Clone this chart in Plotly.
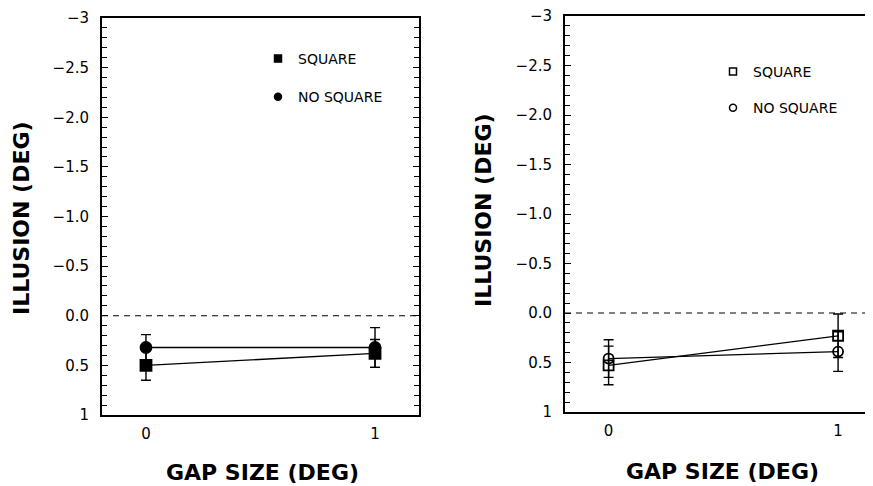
import plotly.graph_objects as go

# ---- data ----
gap_size = [0, 1]

# Left panel (filled symbols)
left_square = [0.50, 0.38]
left_square_err = [0.15, 0.14]
left_nosquare = [0.32, 0.32]
left_nosquare_err = [0.13, 0.20]

# Right panel (open symbols)
right_square = [0.53, 0.23]
right_square_err = [0.195, 0.22]
right_nosquare = [0.46, 0.39]
right_nosquare_err = [0.19, 0.20]

series_names = ["SQUARE", "NO SQUARE"]
y_tickvals = [-3, -2.5, -2, -1.5, -1, -0.5, 0, 0.5, 1]
y_ticktext = ["\u22123", "\u22122.5", "\u22122.0", "\u22121.5", "\u22121.0", "\u22120.5", "0.0", "0.5", "1"]
x_tickvals = [0, 1]
x_ticktext = ["0", "1"]
y_title = "ILLUSION (DEG)"
x_title = "GAP SIZE (DEG)"

FONT = "DejaVu Sans, Liberation Sans, Arial, sans-serif"
BLACK = "black"
W, H = 873, 486
OFF = 8  # the page body offsets the figure by 8 px


def px(xs):
    return (xs - OFF) / W


def py(ys):
    return 1 - (ys - OFF) / H


fig = go.Figure()


def add_series(xa, ya, y, err, symbol, legend, name):
    filled = "open" not in symbol
    fig.add_trace(go.Scatter(
        x=gap_size, y=y, mode="lines", xaxis=xa, yaxis=ya,
        line=dict(color=BLACK, width=1.3), showlegend=False, hoverinfo="skip"))
    fig.add_trace(go.Scatter(
        x=gap_size, y=y, mode="markers", xaxis=xa, yaxis=ya,
        marker=dict(symbol=symbol, size=11 if filled else 10, color=BLACK,
                    line=dict(color=BLACK, width=1.8)),
        error_y=dict(type="data", array=err, visible=True, color=BLACK,
                     thickness=1.4, width=5),
        showlegend=False, name=name))
    fig.add_trace(go.Scatter(
        x=[None], y=[None], mode="markers", xaxis=xa, yaxis=ya,
        marker=dict(symbol=symbol, size=7, color=BLACK,
                    line=dict(color=BLACK, width=1.5)),
        name=name, legend=legend, legendgroup=legend + name, showlegend=True))


add_series("x", "y", left_square, left_square_err, "square", "legend", series_names[0])
add_series("x", "y", left_nosquare, left_nosquare_err, "circle", "legend", series_names[1])
add_series("x2", "y2", right_square, right_square_err, "square-open", "legend2", series_names[0])
add_series("x2", "y2", right_nosquare, right_nosquare_err, "circle-open", "legend2", series_names[1])

yaxis_common = dict(
    range=[1, -3], tickmode="array", tickvals=y_tickvals, ticktext=y_ticktext,
    ticks="inside", ticklen=6, tickwidth=1, tickcolor=BLACK,
    minor=dict(tickmode="linear", tick0=0, dtick=0.1, ticks="inside",
               ticklen=5, tickwidth=1, tickcolor=BLACK),
    showline=True, linecolor=BLACK, linewidth=2, showgrid=False, zeroline=False,
    mirror="allticks", automargin=False, ticklabeloverflow="allow",
    tickfont=dict(family=FONT, size=15, color=BLACK), ticklabelstandoff=8,
)
xaxis_common = dict(
    tickmode="array", tickvals=x_tickvals, ticktext=x_ticktext, ticks="",
    showline=True, linecolor=BLACK, linewidth=2, showgrid=False, zeroline=False,
    mirror=True, automargin=False, ticklabeloverflow="allow",
    tickfont=dict(family=FONT, size=15, color=BLACK), ticklabelstandoff=4,
)

fig.update_layout(
    width=W, height=H, autosize=False,
    margin=dict(l=0, r=0, t=0, b=0, pad=0, autoexpand=False),
    paper_bgcolor="white", plot_bgcolor="white",
    font=dict(family=FONT, color=BLACK),
    xaxis=dict(domain=[px(102), px(419)], range=[-0.192, 1.192], anchor="y", **xaxis_common),
    yaxis=dict(domain=[py(415), py(18)], anchor="x", **yaxis_common),
    xaxis2=dict(domain=[px(565), 1.0], range=[-0.19, 1.187], anchor="y2", **xaxis_common),
    yaxis2=dict(domain=[py(412), py(16)], anchor="x2", **yaxis_common),
    legend=dict(x=px(258), y=py(43), xanchor="left", yanchor="top",
                bgcolor="rgba(0,0,0,0)", font=dict(family=FONT, size=14, color=BLACK),
                tracegroupgap=17, traceorder="grouped"),
    legend2=dict(x=px(713), y=py(56), xanchor="left", yanchor="top",
                 bgcolor="rgba(0,0,0,0)", font=dict(family=FONT, size=14, color=BLACK),
                 tracegroupgap=15, traceorder="grouped"),
    shapes=[
        dict(type="line", xref="x domain", yref="y", x0=0, x1=1, y0=0, y1=0,
             line=dict(color=BLACK, width=1.2, dash="6px,5px")),
        dict(type="line", xref="x2 domain", yref="y2", x0=0, x1=1, y0=0, y1=0,
             line=dict(color=BLACK, width=1.2, dash="6px,5px")),
    ],
    annotations=[
        dict(text=y_title, x=px(22), y=py(218), xref="paper", yref="paper",
             textangle=-90, showarrow=False, xanchor="center", yanchor="middle",
             font=dict(family=FONT, size=22, weight="bold", color=BLACK)),
        dict(text=y_title, x=px(483), y=py(210), xref="paper", yref="paper",
             textangle=-90, showarrow=False, xanchor="center", yanchor="middle",
             font=dict(family=FONT, size=22, weight="bold", color=BLACK)),
        dict(text=x_title, x=px(262), y=py(472), xref="paper", yref="paper",
             showarrow=False, xanchor="center", yanchor="middle",
             font=dict(family=FONT, size=22, weight="bold", color=BLACK)),
        dict(text=x_title, x=px(722), y=py(471), xref="paper", yref="paper",
             showarrow=False, xanchor="center", yanchor="middle",
             font=dict(family=FONT, size=22, weight="bold", color=BLACK)),
    ],
)

fig.write_html("out.html", config={"displayModeBar": False})
